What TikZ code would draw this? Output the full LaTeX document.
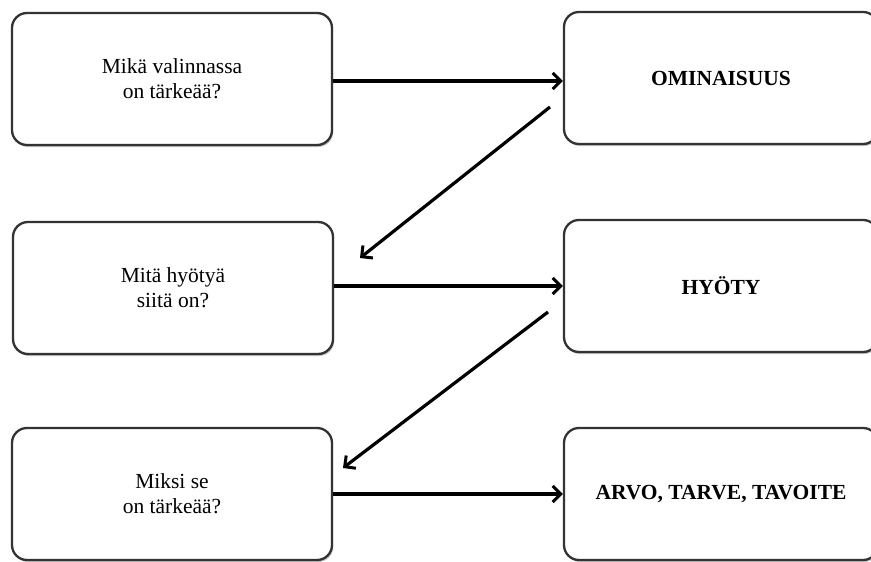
\documentclass[tikz,border=0pt]{standalone}
\usepackage{fontspec}
\setmainfont{Liberation Serif}
\usetikzlibrary{arrows.meta,shadows}

\begin{document}
\begin{tikzpicture}[x=1pt,y=-1pt,
  card/.style={draw=black!80, line width=2.3pt, rounded corners=15pt, fill=white,
    minimum height=132pt, inner sep=0pt, align=center,
    font=\fontsize{21.5}{25}\selectfont,
    drop shadow={shadow xshift=1.2pt, shadow yshift=-2pt, opacity=0.4, fill=black!60}},
  leftcard/.style={card, minimum width=320pt},
  rightcard/.style={card, minimum width=314pt, font=\fontsize{21.5}{25}\selectfont\bfseries},
  arr/.style={line width=3.2pt, -{Straight Barb[length=8pt,width=16pt,line width=3pt]}}
]
\useasboundingbox (0,0) rectangle (871,562);

% question boxes on the left
\node[leftcard] (L1) at (172,79)  {Mikä valinnassa\\on tärkeää?};
\node[leftcard] (L2) at (173,288) {Mitä hyötyä\\siitä on?};
\node[leftcard] (L3) at (172,494) {Miksi se\\on tärkeää?};

% answer boxes on the right
\node[rightcard] (R1) at (721,78)  {OMINAISUUS};
\node[rightcard] (R2) at (721,286) {HYÖTY};
\node[rightcard] (R3) at (721,494) {ARVO, TARVE, TAVOITE};

% row arrows
\draw[arr] ([yshift=-2pt]L1.east) -- ([yshift=-2pt]L1.east -| R1.west);
\draw[arr] (L2.east |- R2.west) -- (R2.west);
\draw[arr] (L3.east) -- (R3.west);

% diagonal arrows back to the next question
\coordinate (d1s) at (550,107);
\coordinate (d1e) at (360,258);
\coordinate (d2s) at (548,312);
\coordinate (d2e) at (343,468);
\draw[arr] (d1s) -- (d1e);
\draw[arr] (d2s) -- (d2e);
\end{tikzpicture}
\end{document}
